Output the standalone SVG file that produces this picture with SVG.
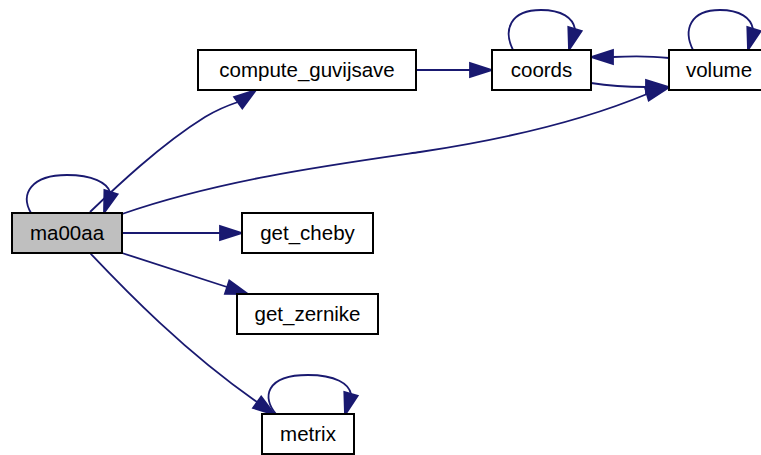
<svg xmlns="http://www.w3.org/2000/svg" width="761" height="455" viewBox="0 0 761 455">
<style>
.n rect{fill:#fff;stroke:#000;stroke-width:2}
.n text{font-family:"Liberation Sans",Arial,sans-serif;font-size:20.5px;text-anchor:middle;fill:#000}
.e path{fill:none;stroke:#191970;stroke-width:1.8}
.e polygon{fill:#191970;stroke:#191970;stroke-width:1.8}
</style>
<rect width="761" height="455" fill="#fff"/>
<g class="e" id="edges">
<path d="M31,213 C20,194 31,175 67,175 C93,175 107,183 110,192"/>
<polygon points="104,213 117.6,194.3 104.4,189.9"/>
<path d="M90,212 C115,188 160,145 205,117 C215,111 226,106 238,102"/>
<polygon points="256,90 242.3,108.4 234.1,97"/>
<path d="M416,70 L470,70"/>
<polygon points="492,70 470,63 470,77"/>
<path d="M513,50 C503,30 510,10 541,10 C562,10 573,18 575,29"/>
<polygon points="569,50 581.7,31 568.3,27"/>
<path d="M669,58 C651,56 632,56 613,57"/>
<polygon points="591,57 613,50 613,64"/>
<path d="M591,83 C610,86 625,87 646,87"/>
<polygon points="669,87 646,80 646,94"/>
<path d="M122,214 C220,180 330,165 420,152 C500,140 580,122 647,94"/>
<polygon points="668,88 648.7,100.6 644.9,87.2"/>
<path d="M693,50 C683,30 690,10 720,10 C740,10 751,18 753,29"/>
<polygon points="748,50 760.7,31 747.3,27"/>
<path d="M122,233 L220,233"/>
<polygon points="242,233 220,226 220,240"/>
<path d="M122,253 L227,287"/>
<polygon points="248,294 224.9,293.9 229.3,280.5"/>
<path d="M90,253 C125,290 185,352 257,402"/>
<polygon points="275,415 253,407.9 261.2,396.5"/>
<path d="M276,414 C262,398 265,375 308,375 C336,375 349,384 351,394"/>
<polygon points="345,415 357.7,395.7 344.3,391.9"/>
</g>
<g class="n" id="ma00aa"><rect x="12" y="213" width="110" height="40" style="fill:#bfbfbf"/><text x="67" y="240">ma00aa</text></g>
<g class="n" id="compute_guvijsave"><rect x="198" y="50" width="218" height="40"/><text x="307" y="77">compute_guvijsave</text></g>
<g class="n" id="coords"><rect x="492" y="50" width="99" height="40"/><text x="541.5" y="77">coords</text></g>
<g class="n" id="volume"><rect x="669" y="50" width="100" height="40"/><text x="719" y="77">volume</text></g>
<g class="n" id="get_cheby"><rect x="242" y="213" width="131" height="40"/><text x="307.5" y="240">get_cheby</text></g>
<g class="n" id="get_zernike"><rect x="237" y="294" width="141" height="40"/><text x="307.5" y="321">get_zernike</text></g>
<g class="n" id="metrix"><rect x="262" y="414" width="92" height="40"/><text x="308" y="441">metrix</text></g>
</svg>
